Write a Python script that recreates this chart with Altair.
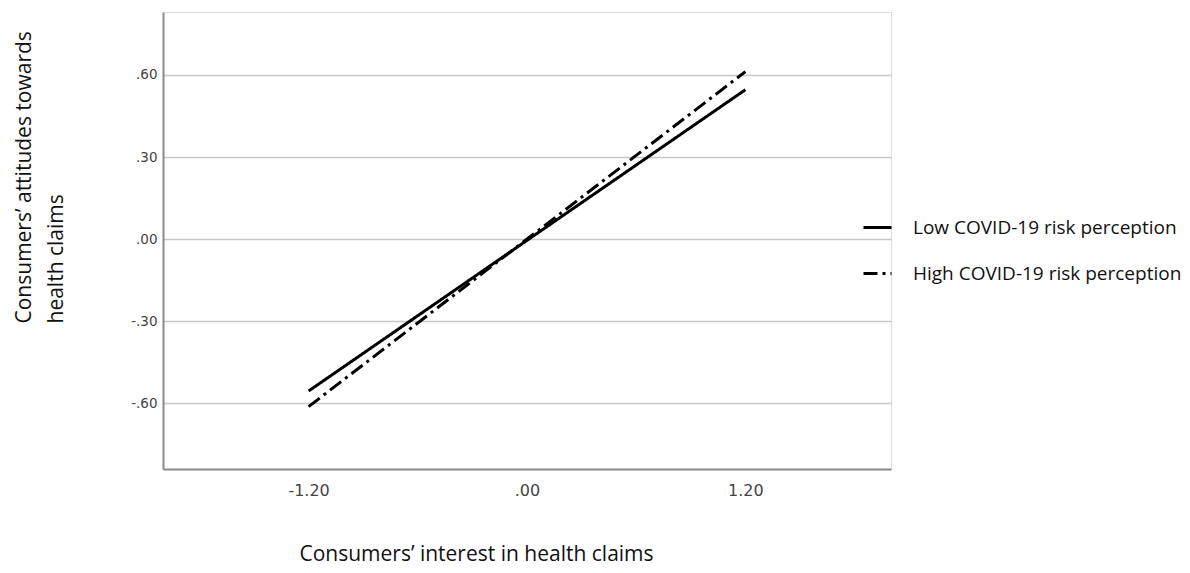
import altair as alt
import pandas as pd

x_vals = [-1.2, 1.2]
low_y = [-0.555, 0.546]
high_y = [-0.612, 0.612]
groups = ["Low COVID-19 risk perception", "High COVID-19 risk perception"]
y_ticks = [-0.6, -0.3, 0.0, 0.3, 0.6]
x_ticks = [-1.2, 0.0, 1.2]

rows = []
for xv, yv in zip(x_vals, low_y):
    rows.append({"x": xv, "y": yv, "g": groups[0]})
for xv, yv in zip(x_vals, high_y):
    rows.append({"x": xv, "y": yv, "g": groups[1]})
df = pd.DataFrame(rows)

lab = "(datum.value < 0 ? '-' : '') + replace(format(abs(datum.value), '.2f'), '0.', '.')"

chart = alt.Chart(df).mark_line(color="black", strokeWidth=3).encode(
    x=alt.X("x:Q",
            scale=alt.Scale(domain=[-2.0, 2.0], nice=False, zero=False),
            axis=alt.Axis(values=x_ticks, labelExpr=lab, grid=False, ticks=False,
                          domainColor="#8a8a8a", domainWidth=2,
                          labelFont="DejaVu Sans", labelFontSize=16, labelColor="#444",
                          labelPadding=13,
                          title="Consumers\u2019 interest in health claims",
                          titleFont="Open Sans", titleFontSize=21, titleFontWeight="normal",
                          titleColor="#111", titleX=313, titleY=91, titleAnchor="middle",
                          titleBaseline="alphabetic")),
    y=alt.Y("y:Q",
            scale=alt.Scale(domain=[-0.84, 0.83], nice=False, zero=False),
            axis=alt.Axis(values=y_ticks, labelExpr=lab, grid=True, gridColor="#c8c8c8",
                          gridWidth=1.5, ticks=False,
                          domainColor="#8a8a8a", domainWidth=2,
                          labelFont="DejaVu Sans", labelFontSize=13.5, labelColor="#444",
                          labelPadding=6,
                          title=["Consumers\u2019 attitudes towards", "health claims"],
                          titleFont="Open Sans", titleFontSize=21, titleFontWeight="normal",
                          titleColor="#111", titleAngle=-90, titleAlign="left",
                          titleBaseline="middle", titleLineHeight=32,
                          titleX=-139, titleY=311)),
    strokeDash=alt.StrokeDash("g:N",
                              scale=alt.Scale(domain=groups, range=[[1, 0], [14, 5, 3, 5]]),
                              legend=alt.Legend(title=None, orient="none", legendX=699, legendY=200,
                                                symbolType="stroke", symbolSize=784,
                                                symbolStrokeWidth=3, symbolStrokeColor="black",
                                                labelFont="Open Sans", labelFontSize=19,
                                                labelColor="#111", labelOffset=20,
                                                rowPadding=20, labelLimit=400)),
).properties(
    width=728, height=457,
    autosize=alt.AutoSizeParams(type="none"),
    padding={"left": 155, "top": 4, "right": 291, "bottom": 96},
).configure_view(stroke=None).configure(background="white")

chart.save("out.html", embed_options={"renderer": "svg", "actions": False})
